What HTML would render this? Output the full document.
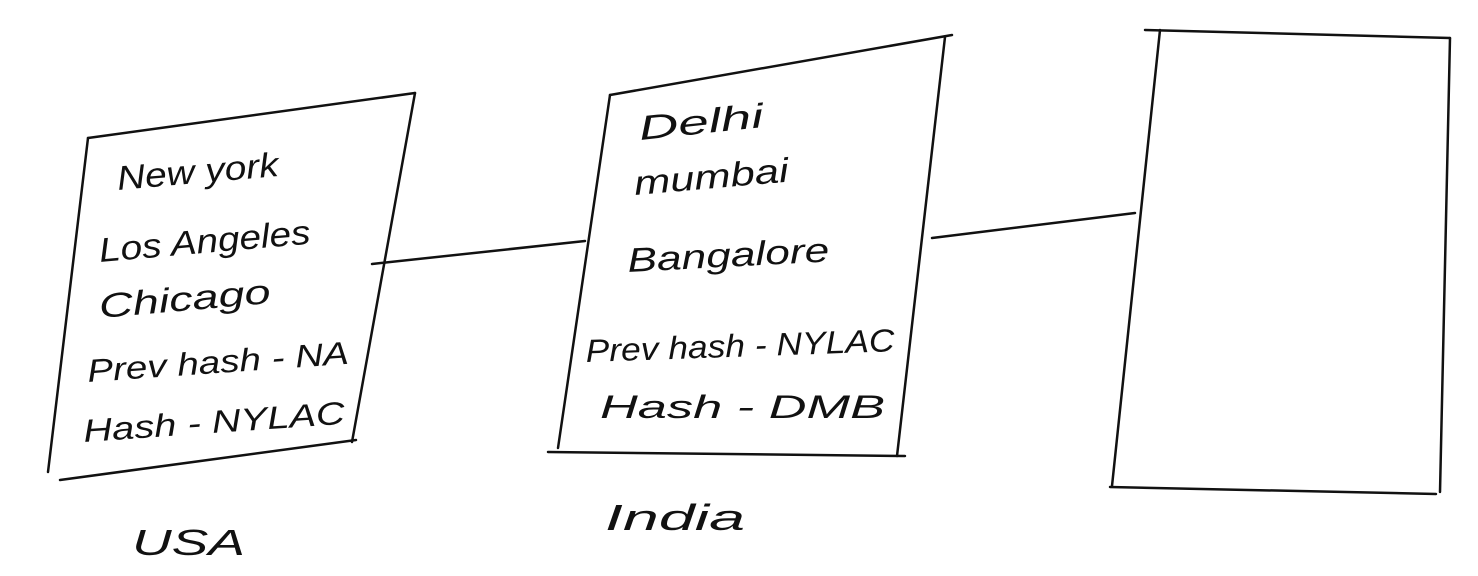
<!DOCTYPE html>
<html><head><meta charset="utf-8"><style>
html,body{margin:0;padding:0;background:#fff;}
svg{display:block}
text{font-family:"Liberation Sans",sans-serif;font-style:italic;fill:#111;}
</style></head><body>
<svg width="1478" height="576" viewBox="0 0 1478 576" xmlns="http://www.w3.org/2000/svg">
<g fill="none" stroke="#111" stroke-width="2.5" stroke-linecap="round" stroke-linejoin="round">
<path d="M88,138 L415,93"/>
<path d="M88,138 L48,472"/>
<path d="M415,93 L352,442"/>
<path d="M60,480 L356,440"/>
<path d="M372,264 L585,241"/>
<path d="M610,95 L952,35"/>
<path d="M610,95 L558,448"/>
<path d="M945,37 L897,456"/>
<path d="M548,452 L905,456"/>
<path d="M932,238 L1135,213"/>
<path d="M1145,30 L1450,38"/>
<path d="M1160,30 L1112,486"/>
<path d="M1450,38 L1440,492"/>
<path d="M1110,487 L1436,494"/>
</g>
<g font-size="34">
<text x="118" y="190" transform="rotate(-5 118 190)" textLength="162" lengthAdjust="spacingAndGlyphs">New york</text>
<text x="100" y="262" transform="rotate(-5 100 262)" textLength="212" lengthAdjust="spacingAndGlyphs">Los Angeles</text>
<text x="100" y="318" transform="rotate(-5 100 318)" textLength="172" lengthAdjust="spacingAndGlyphs">Chicago</text>
<text x="88" y="382" transform="rotate(-4 88 382)" font-size="32" textLength="262" lengthAdjust="spacingAndGlyphs">Prev hash - NA</text>
<text x="84" y="442" transform="rotate(-4 84 442)" font-size="32" textLength="262" lengthAdjust="spacingAndGlyphs">Hash - NYLAC</text>
<text x="640" y="140" transform="rotate(-6 640 140)" textLength="125" lengthAdjust="spacingAndGlyphs">Delhi</text>
<text x="635" y="195" transform="rotate(-5 635 195)" textLength="155" lengthAdjust="spacingAndGlyphs">mumbai</text>
<text x="628" y="272" transform="rotate(-3 628 272)" textLength="202" lengthAdjust="spacingAndGlyphs">Bangalore</text>
<text x="586" y="362" transform="rotate(-2 586 362)" font-size="32" textLength="309" lengthAdjust="spacingAndGlyphs">Prev hash - NYLAC</text>
<text x="600" y="418" font-size="32" textLength="285" lengthAdjust="spacingAndGlyphs">Hash - DMB</text>
<text x="132" y="555" font-size="36" textLength="113" lengthAdjust="spacingAndGlyphs">USA</text>
<text x="605" y="530" font-size="36" textLength="140" lengthAdjust="spacingAndGlyphs">India</text>
</g>
</svg>
</body></html>
